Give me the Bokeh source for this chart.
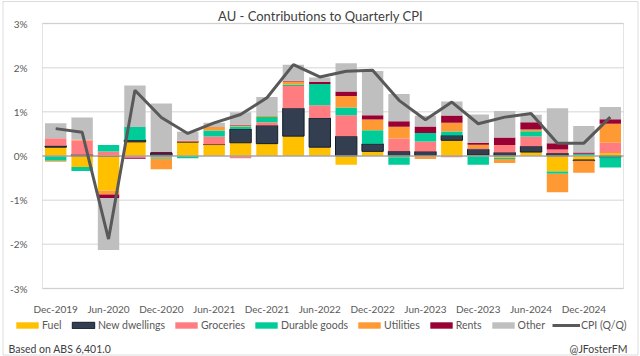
import numpy as np
from bokeh.plotting import figure
from bokeh.models import (ColumnDataSource, FixedTicker, Legend, LegendItem,
                          Label, BoxAnnotation, Range1d)
from bokeh.embed import file_html
from bokeh.resources import INLINE

# ---------------- data (percentage points) ----------------
quarters = ["Dec-2019", "Mar-2020", "Jun-2020", "Sep-2020", "Dec-2020", "Mar-2021",
            "Jun-2021", "Sep-2021", "Dec-2021", "Mar-2022", "Jun-2022", "Sep-2022",
            "Dec-2022", "Mar-2023", "Jun-2023", "Sep-2023", "Dec-2023", "Mar-2024",
            "Jun-2024", "Sep-2024", "Dec-2024", "Mar-2025"]

fuel = [0.20, -0.25, -0.78, 0.32, -0.02, 0.32, 0.26, 0.30, 0.28, 0.45, 0.20, -0.20,
        0.105, -0.03, 0.01, 0.355, 0.02, -0.04, 0.09, -0.35, -0.09, 0.07]
new_dwellings = [0.03, 0.03, 0.0, 0.045, 0.07, 0.0, 0.0, 0.31, 0.41, 0.63, 0.66, 0.445,
                 0.17, 0.105, 0.09, 0.11, 0.135, 0.08, 0.13, 0.06, -0.02, -0.03]
groceries = [0.17, 0.32, 0.10, -0.04, -0.02, 0.03, 0.18, -0.05, 0.075, 0.505, 0.29, 0.475,
             0.0, 0.29, 0.23, -0.03, 0.02, 0.17, 0.22, 0.09, 0.02, 0.23]
durable_goods = [-0.11, -0.09, 0.15, 0.29, -0.02, -0.05, 0.14, 0.06, 0.12, 0.03, 0.48, 0.18,
                 0.31, -0.17, 0.19, 0.09, -0.20, -0.03, 0.12, -0.05, 0.03, -0.23]
utilities = [-0.02, 0.02, -0.09, 0.0, -0.24, 0.0, 0.075, 0.02, 0.02, 0.07, 0.0, 0.26,
             0.24, 0.27, -0.07, 0.20, 0.08, -0.09, 0.04, -0.42, -0.27, 0.43]
rents = [0.0, 0.0, -0.08, -0.02, 0.02, 0.0, 0.0, 0.02, 0.0, 0.02, 0.045, 0.10,
         0.10, 0.12, 0.15, 0.16, 0.045, 0.17, 0.166, 0.14, 0.03, 0.10]
other = [0.34, 0.50, -1.18, 0.94, 1.10, 0.20, 0.10, 0.28, 0.43, 0.36, 0.105, 0.64,
         1.00, 0.62, 0.24, 0.32, 0.64, 0.60, 0.17, 0.79, 0.60, 0.28]
cpi_qq = [0.62, 0.54, -1.88, 1.49, 0.87, 0.51, 0.75, 0.94, 1.32, 2.07, 1.79, 1.92,
          1.94, 1.26, 0.82, 1.22, 0.73, 0.88, 0.96, 0.29, 0.29, 0.88]

x_tick_labels = ["Dec-2019", "Jun-2020", "Dec-2020", "Jun-2021", "Dec-2021", "Jun-2022",
                 "Dec-2022", "Jun-2023", "Dec-2023", "Jun-2024", "Dec-2024"]
y_ticks = [-3, -2, -1, 0, 1, 2, 3]
y_tick_labels = ["-3%", "-2%", "-1%", "0%", "1%", "2%", "3%"]

series_names = ["Fuel", "New dwellings", "Groceries", "Durable goods",
                "Utilities", "Rents", "Other"]
series_values = [fuel, new_dwellings, groceries, durable_goods, utilities, rents, other]
series_colors = ["#FFC000", "#333F50", "#FF7C80", "#00CC99", "#FF9933", "#990033", "#BFBFBF"]
line_name = "CPI (Q/Q)"

chart_title = "AU - Contributions to Quarterly CPI"
footer_left = "Based on ABS 6,401.0"
footer_right = "@JFosterFM"

FONT = "Lato"
TXT = "#595959"

# ---------------- layout geometry (pixels) ----------------
W, H = 640, 356
PL, PR, PT, PB = 42, 623, 23, 288      # plot-area edges inside the canvas
n = len(quarters)
x_lo, x_hi = -0.5, n - 0.5
y_lo, y_hi = min(y_ticks), max(y_ticks)
xs = (PR - PL) / (x_hi - x_lo)
ys = (PB - PT) / (y_hi - y_lo)
x_range = Range1d(x_lo - PL / xs, x_hi + (W - PR) / xs)
y_range = Range1d(y_lo - (H - PB) / ys, y_hi + PT / ys)

p = figure(width=W, height=H, output_backend="svg", toolbar_location=None,
           x_range=x_range, y_range=y_range, min_border=0,
           background_fill_color="white", border_fill_color="white")
p.title.visible = False
p.outline_line_color = None
p.xgrid.grid_line_color = None
p.ygrid.grid_line_color = None

# horizontal gridlines across the plot area
grid_y = [t for t in y_ticks if t not in (0,)]
p.segment(x0=[x_lo] * len(grid_y), x1=[x_hi] * len(grid_y), y0=grid_y, y1=grid_y,
          line_color="#e3e3e3", line_width=1.5)

idx = np.arange(n)
pos_base = np.zeros(n)
neg_base = np.zeros(n)
bar_renderers = []
for name, vals, col in zip(series_names, series_values, series_colors):
    v = np.array(vals, dtype=float)
    bottom = np.where(v >= 0, pos_base, neg_base)
    top = bottom + v
    pos_base = np.where(v >= 0, top, pos_base)
    neg_base = np.where(v < 0, top, neg_base)
    src = ColumnDataSource(dict(x=idx, bottom=bottom, top=top))
    lc = "#141c2a" if name == "New dwellings" else None
    r = p.vbar(x="x", bottom="bottom", top="top", width=0.81, source=src,
               fill_color=col, line_color=lc, line_width=1)
    bar_renderers.append(r)

# zero axis line
p.segment(x0=[x_lo], x1=[x_hi], y0=[0], y1=[0], line_color="#a6a6a6", line_width=1.5)

line_src = ColumnDataSource(dict(x=idx, y=cpi_qq))
cpi_r = p.line(x="x", y="y", source=line_src, line_color="#595959", line_width=3)

# plot-area border
p.add_layout(BoxAnnotation(left=x_lo, right=x_hi, bottom=y_lo, top=y_hi,
                           fill_alpha=0, line_color="#a6a6a6", line_width=1))

# axes pinned to the plot-area edges
p.xaxis.fixed_location = y_lo
p.yaxis.fixed_location = x_lo
p.xaxis.ticker = FixedTicker(ticks=[quarters.index(t) for t in x_tick_labels])
p.xaxis.major_label_overrides = {quarters.index(t): t for t in x_tick_labels}
p.yaxis.ticker = FixedTicker(ticks=y_ticks)
p.yaxis.major_label_overrides = {t: l for t, l in zip(y_ticks, y_tick_labels)}
for ax in (p.xaxis, p.yaxis):
    ax.axis_line_color = None
    ax.major_tick_line_color = None
    ax.minor_tick_line_color = None
    ax.major_label_text_font = FONT
    ax.major_label_text_font_size = "10px"
    ax.major_label_text_color = TXT
p.xaxis.major_label_standoff = 8
p.yaxis.major_label_standoff = 9

# legend row
items = [LegendItem(label=nm, renderers=[r]) for nm, r in zip(series_names, bar_renderers)]
items.append(LegendItem(label=line_name, renderers=[cpi_r]))
legend = Legend(items=items, orientation="horizontal", location=(13, H - 335),
                padding=0, margin=0, spacing=7, glyph_width=28, glyph_height=8,
                label_standoff=1, label_height=20, border_line_color=None,
                background_fill_alpha=0, label_text_font=FONT,
                label_text_font_size="10.5px", label_text_color=TXT)
p.add_layout(legend, "center")

# title, footer, outer border
p.add_layout(Label(x=320, y=H - 15, x_units="screen", y_units="screen",
                   text=chart_title, text_align="center", text_baseline="middle",
                   text_font=FONT, text_font_size="13px", text_color="#404040"))
p.add_layout(Label(x=8, y=H - 348, x_units="screen", y_units="screen",
                   text=footer_left, text_align="left", text_baseline="middle",
                   text_font=FONT, text_font_size="10.5px", text_color="#404040"))
p.add_layout(Label(x=627, y=H - 348, x_units="screen", y_units="screen",
                   text=footer_right, text_align="right", text_baseline="middle",
                   text_font=FONT, text_font_size="10.5px", text_color="#404040"))
p.add_layout(BoxAnnotation(left=2.5, right=637.5, bottom=H - 354.5, top=H - 1,
                           left_units="screen", right_units="screen",
                           top_units="screen", bottom_units="screen",
                           fill_alpha=0, line_color="#8c8c8c", line_width=1))

open("out.html", "w").write(file_html(p, INLINE))
